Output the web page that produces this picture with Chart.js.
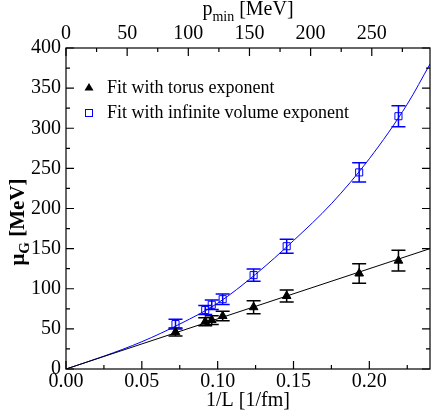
<!DOCTYPE html>
<html>
<head>
<meta charset="utf-8">
<script src="https://cdn.jsdelivr.net/npm/chart.js@4.4.1/dist/chart.umd.min.js"></script>
<style>
  html, body { margin: 0; padding: 0; background: #fff; }
</style>
</head>
<body>
<canvas id="chart" width="436" height="414"></canvas>
<script>
// lattice points, 1/L in 1/fm
const invL = [0.0722, 0.0918, 0.0961, 0.1033, 0.1237, 0.1455, 0.1933, 0.2192];
const torusMu = [46, 59, 61, 66, 77, 91, 119, 135];
const torusErr = [5, 5, 5.5, 6, 8, 7.5, 12, 13];
const infMu = [56, 73.5, 80, 87, 117, 153, 245, 315];
const infErr = [6, 5.5, 6, 6.5, 7.7, 8.7, 12, 13];

// fit curves
const torusFitX = [0, 0.24];
const torusFitY = [0, 150];
const infFitX = [0, 0.025, 0.05, 0.075, 0.1, 0.125, 0.15, 0.175, 0.2, 0.225, 0.24];
const infFitY = [0, 16, 34, 56, 82, 118, 160, 206, 262, 330, 380];

// axes
const xTicks = [0, 0.05, 0.10, 0.15, 0.20];
const xMinor = [0.025, 0.075, 0.125, 0.175, 0.225];
const pTicks = [0, 50, 100, 150, 200, 250];
const pMinor = [25, 75, 125, 175, 225, 275];
const yTicks = [0, 50, 100, 150, 200, 250, 300, 350, 400];
const yMinor = [25, 75, 125, 175, 225, 275, 325, 375];
const xMax = 0.24;
const pMax = 297.6;   // p_min at 1/L = 0.24
const yMax = 400;

const legendLabels = ["Fit with torus exponent", "Fit with infinite volume exponent"];

const BLUE = "#0000ff";
const SERIF = "'Liberation Serif', 'Times New Roman', serif";

const toPoints = (xs, ys) => xs.map((x, i) => ({ x: x, y: ys[i] }));

const errorBars = {
    id: "errorBars",
    beforeDatasetsDraw(chart) {
        const ctx = chart.ctx;
        const xs = chart.scales.x, ys = chart.scales.y;
        const sets = [[torusMu, torusErr, "#000"], [infMu, infErr, BLUE]];
        ctx.save();
        ctx.lineWidth = 1.5;
        sets.forEach(([vals, errs, color]) => {
            ctx.strokeStyle = color;
            invL.forEach((x, i) => {
                const px = xs.getPixelForValue(x);
                const top = ys.getPixelForValue(vals[i] + errs[i]);
                const bot = ys.getPixelForValue(vals[i] - errs[i]);
                ctx.beginPath();
                ctx.moveTo(px, top); ctx.lineTo(px, bot);
                ctx.moveTo(px - 7, top); ctx.lineTo(px + 7, top);
                ctx.moveTo(px - 7, bot); ctx.lineTo(px + 7, bot);
                ctx.stroke();
            });
        });
        ctx.restore();
    }
};

const frame = {
    id: "frame",
    afterDraw(chart) {
        const ctx = chart.ctx;
        const a = chart.chartArea;
        const xs = chart.scales.x, ps = chart.scales.x2, ys = chart.scales.y;
        ctx.save();
        ctx.strokeStyle = "#000";
        ctx.lineWidth = 1.2;
        ctx.strokeRect(a.left, a.top, a.right - a.left, a.bottom - a.top);

        ctx.beginPath();
        const tick = (vals, len, scale, side) => {
            vals.forEach(v => {
                const p = scale.getPixelForValue(v);
                if (side === "bottom") {
                    ctx.moveTo(p, a.bottom); ctx.lineTo(p, a.bottom - len);
                } else if (side === "top") {
                    ctx.moveTo(p, a.top); ctx.lineTo(p, a.top + len);
                } else {
                    ctx.moveTo(a.left, p); ctx.lineTo(a.left + len, p);
                    ctx.moveTo(a.right, p); ctx.lineTo(a.right - len, p);
                }
            });
        };
        tick(xTicks, 8, xs, "bottom");
        tick(xMinor, 4, xs, "bottom");
        tick(pTicks, 8, ps, "top");
        tick(pMinor, 4, ps, "top");
        tick(yTicks, 8, ys, "sides");
        tick(yMinor, 4, ys, "sides");
        ctx.stroke();

        // axis titles
        ctx.fillStyle = "#000";
        ctx.textBaseline = "alphabetic";
        ctx.textAlign = "left";
        const cx = (a.left + a.right) / 2;

        ctx.font = "20px " + SERIF;
        let w1 = ctx.measureText("p").width;
        ctx.font = "14px " + SERIF;
        let w2 = ctx.measureText("min").width;
        ctx.font = "20px " + SERIF;
        let w3 = ctx.measureText(" [MeV]").width;
        let sx = cx - (w1 + w2 + w3) / 2;
        ctx.fillText("p", sx, 15);
        ctx.font = "14px " + SERIF;
        ctx.fillText("min", sx + w1, 21);
        ctx.font = "20px " + SERIF;
        ctx.fillText(" [MeV]", sx + w1 + w2, 15);

        ctx.textAlign = "center";
        ctx.fillText("1/L [1/fm]", cx, 406);

        ctx.save();
        ctx.translate(24, 222);
        ctx.rotate(-Math.PI / 2);
        ctx.textAlign = "left";
        ctx.font = "bold 21px " + SERIF;
        w1 = ctx.measureText("\u03bc").width;
        ctx.font = "bold 15px " + SERIF;
        w2 = ctx.measureText("G").width;
        ctx.font = "bold 21px " + SERIF;
        w3 = ctx.measureText(" [MeV]").width;
        sx = -(w1 + w2 + w3) / 2;
        ctx.fillText("\u03bc", sx, 0);
        ctx.font = "bold 15px " + SERIF;
        ctx.fillText("G", sx + w1, 5);
        ctx.font = "bold 21px " + SERIF;
        ctx.fillText(" [MeV]", sx + w1 + w2, 0);
        ctx.restore();

        // legend
        ctx.font = "18px " + SERIF;
        ctx.textAlign = "left";
        ctx.textBaseline = "alphabetic";
        ctx.fillStyle = "#000";
        ctx.beginPath();
        ctx.moveTo(89, 83); ctx.lineTo(93.5, 90.5); ctx.lineTo(84.5, 90.5); ctx.closePath();
        ctx.fill();
        ctx.fillText(legendLabels[0], 107, 93);
        ctx.strokeStyle = BLUE;
        ctx.lineWidth = 1;
        ctx.strokeRect(85.5, 109.5, 7, 7);
        ctx.fillText(legendLabels[1], 107, 118);
        ctx.restore();
    }
};

const tickFont = { family: SERIF, size: 20 };
const noGrid = { display: false, drawTicks: false };

new Chart(document.getElementById("chart"), {
    type: "scatter",
    data: {
        datasets: [
            {
                data: toPoints(torusFitX, torusFitY),
                showLine: true, pointRadius: 0,
                borderColor: "#000", borderWidth: 1
            },
            {
                data: toPoints(infFitX, infFitY),
                showLine: true, pointRadius: 0,
                cubicInterpolationMode: "monotone",
                borderColor: BLUE, borderWidth: 1
            },
            {
                label: legendLabels[0],
                data: toPoints(invL, torusMu),
                pointStyle: "triangle", pointRadius: 5,
                backgroundColor: "#000", borderColor: "#000", borderWidth: 1
            },
            {
                label: legendLabels[1],
                data: toPoints(invL, infMu),
                pointStyle: "rect", pointRadius: 5,
                backgroundColor: "rgba(0,0,0,0)", borderColor: BLUE, borderWidth: 1
            }
        ]
    },
    options: {
        responsive: false,
        animation: false,
        layout: { padding: { left: 0, right: 2, top: 0, bottom: 0 } },
        plugins: { legend: { display: false }, tooltip: { enabled: false } },
        scales: {
            x: {
                type: "linear", position: "bottom", min: 0, max: xMax,
                grid: noGrid, border: { display: false },
                afterBuildTicks: s => { s.ticks = xTicks.map(v => ({ value: v })); },
                afterFit: s => { s.height = 45; },
                ticks: {
                    font: tickFont, color: "#000", padding: 1, maxRotation: 0,
                    callback: v => Number(v).toFixed(2)
                }
            },
            x2: {
                type: "linear", position: "top", min: 0, max: pMax,
                grid: noGrid, border: { display: false },
                afterBuildTicks: s => { s.ticks = pTicks.map(v => ({ value: v })); },
                afterFit: s => { s.height = 48; },
                ticks: { font: tickFont, color: "#000", padding: 2, maxRotation: 0 }
            },
            y: {
                type: "linear", position: "left", min: 0, max: yMax,
                grid: noGrid, border: { display: false },
                afterBuildTicks: s => { s.ticks = yTicks.map(v => ({ value: v })); },
                afterFit: s => { s.width = 66; },
                ticks: { font: tickFont, color: "#000", padding: 5 }
            }
        }
    },
    plugins: [errorBars, frame]
});
</script>
</body>
</html>
